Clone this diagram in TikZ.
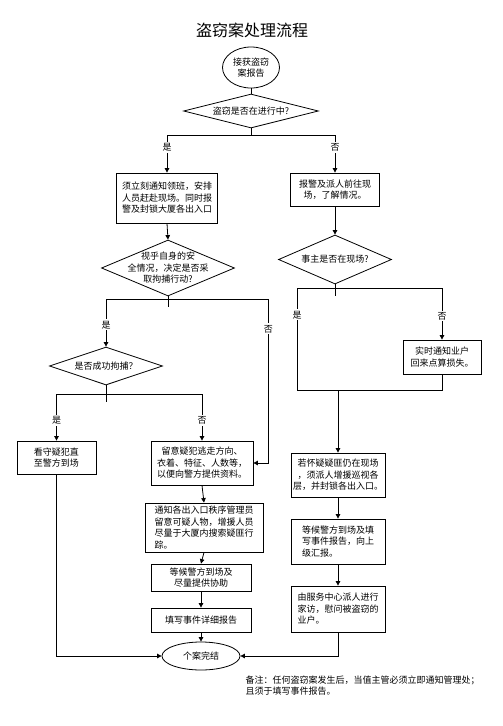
\documentclass[tikz,border=0pt]{standalone}
\usepackage{fontspec}
\setmainfont{Noto Sans CJK SC}
\usepackage{tikz}
\usetikzlibrary{arrows.meta,calc,positioning,shapes.geometric}
\tikzset{
  caja/.style={
    draw=black,
    line width=.8pt,
    align=center,
    inner sep=3pt,
    font=\fontsize{9}{11.5}\selectfont
  },
  rombo/.style={
    diamond,
    draw=black,
    line width=.8pt,
    inner sep=0pt
  },
  texto/.style={
    align=center,
    font=\fontsize{9}{11.5}\selectfont
  },
  elipse/.style={
    ellipse,
    draw=black,
    line width=.8pt,
    align=center,
    inner sep=0pt,
    font=\fontsize{9}{11.5}\selectfont
  },
  etiqueta/.style={
    fill=white,
    inner sep=1.5pt,
    font=\fontsize{9}{11}\selectfont
  },
  linea/.style={
    line width=.8pt
  },
  arrow/.style={
    -{Triangle[length=4.5pt,width=4.5pt]},
    line width=.8pt
  }
}

\begin{document}
\begin{tikzpicture}[x=1pt,y=-1pt]
\useasboundingbox[fill=white] (0,0) rectangle (503,726);
\node[font=\fontsize{16}{18}\selectfont] (titulo) at (252,30) {盗窃案处理流程};
\node[elipse,minimum width=57pt,minimum height=41pt] (inicio) at (251,67.5) {接获盗窃\\案报告};
\node[rombo,minimum width=135pt,minimum height=34pt,label={[texto]center:{盗窃是否在进行中?}}] (d1) at (251,111) {};
% rama izquierda
\node[caja,align=left,minimum width=101pt,minimum height=50pt] (a) at (167,198) {须立刻通知领班，安排\\人员赶赴现场。同时报\\警及封锁大厦各出入口};
\node[rombo,minimum width=133pt,minimum height=56pt,label={[texto]center:{视乎自身的安\\全情况，决定是否采\\取拘捕行动?}}] (d2) at (168,268) {};
\node[rombo,minimum width=113pt,minimum height=38pt,label={[texto]center:{是否成功拘捕？}}] (d3) at (106,366) {};
\node[caja,minimum width=79pt,minimum height=33pt] (b3) at (56.5,457.5) {看守疑犯直\\至警方到场};
\node[caja,minimum width=102pt,minimum height=44pt] (b4) at (202,463) {留意疑犯逃走方向、\\衣着、特征、人数等，\\以便向警方提供资料。};
\node[caja,align=left,minimum width=118pt,minimum height=49pt] (b5) at (204,527.5) {通知各出入口秩序管理员\\留意可疑人物，增援人员\\尽量于大厦内搜索疑匪行\\踪。};
\node[caja,minimum width=100pt,minimum height=27pt] (b6) at (201,577.5) {等候警方到场及\\尽量提供协助};
\node[caja,minimum width=100pt,minimum height=24pt] (b7) at (201,620) {填写事件详细报告};
\node[elipse,minimum width=78pt,minimum height=28pt] (fin) at (201,656) {个案完结};
% rama derecha
\node[caja,minimum width=89pt,minimum height=33pt] (b) at (335,189.5) {报警及派人前往现\\场，了解情况。};
\node[rombo,minimum width=113pt,minimum height=49pt,label={[texto]center:{事主是否在现场?}}] (d4) at (335,259.5) {};
\node[caja,minimum width=78pt,minimum height=34pt] (b9) at (442,357) {实时通知业户\\回来点算损失。};
\node[caja,inner xsep=2pt,minimum width=94pt,minimum height=44pt] (b10) at (338,475) {若怀疑疑匪仍在现场\\，须派人增援巡视各\\层，并封锁各出入口。};
\node[caja,align=left,minimum width=94pt,minimum height=45pt] (b11) at (338,541.5) {等候警方到场及填\\写事件报告，向上\\级汇报。};
\node[caja,align=left,minimum width=94pt,minimum height=46pt] (b12) at (338,609) {由服务中心派人进行\\家访，慰问被盗窃的\\业户。};
\node[texto,align=left,anchor=north west,font=\fontsize{9}{11}\selectfont] (nota) at (242,672) {备注：任何盗窃案发生后，当值主管必须立即通知管理处；\\且须于填写事件报告。};

\coordinate (j1) at ($(d1.south)+(0,7)$);
\coordinate (j2) at ($(d2.south)+(0,3)$);
\coordinate (j3) at ($(d3.south)+(0,9)$);
\coordinate (j4) at ($(d4.south)+(0,4)$);
\coordinate (c1) at ($(b4.east)+(15,0)$);
\coordinate (m1) at (297,390);
\coordinate (m2) at (442,390);
\coordinate (j5) at (338,390);

\draw[linea] (inicio) -- (d1);
\draw[linea] (d1.south) -- (j1);
\draw[arrow] (j1) -| node[etiqueta,pos=.66]{是} (a.north);
\draw[arrow] (j1) -| node[etiqueta,pos=.66]{否} (b.north);
\draw[arrow] (a.south) -- (d2.north);
\draw[arrow] (b.south) -- (d4.north);
\draw[linea] (d2.south) -- ++(0,11);
\draw[arrow] (j2) -| node[etiqueta,pos=.77]{是} (d3.north);
\draw[arrow] (j2) -| node[etiqueta,pos=.59]{否} (c1) -- (b4.east);
\draw[linea] (d3.south) -- ++(0,17);
\draw[arrow] (j3) -| node[etiqueta,pos=.78]{是} (b3.north);
\draw[arrow] (j3) -| node[etiqueta,pos=.78]{否} (b4.north);
\draw[arrow] (b4.south) -- (b5.north);
\draw[arrow] (b5.south) -- (b6.north);
\draw[arrow] (b6.south) -- (b7.north);
\draw[arrow] (b7.south) -- (fin.north);
\draw[arrow] (b3.south) |- (fin.west);
\draw[linea] (d4.south) -- ++(0,12);
\draw[linea] (j4) -| node[etiqueta,pos=.63]{是} (m1) -- (m2) -- (b9.south);
\draw[arrow] (j4) -| node[etiqueta,pos=.77]{否} (b9.north);
\draw[arrow] (j5) -- (b10.north);
\draw[arrow] (b10.south) -- (b11.north);
\draw[arrow] (b11.south) -- (b12.north);
\draw[arrow] (b12.south) |- (fin.east);
\end{tikzpicture}
\end{document}
